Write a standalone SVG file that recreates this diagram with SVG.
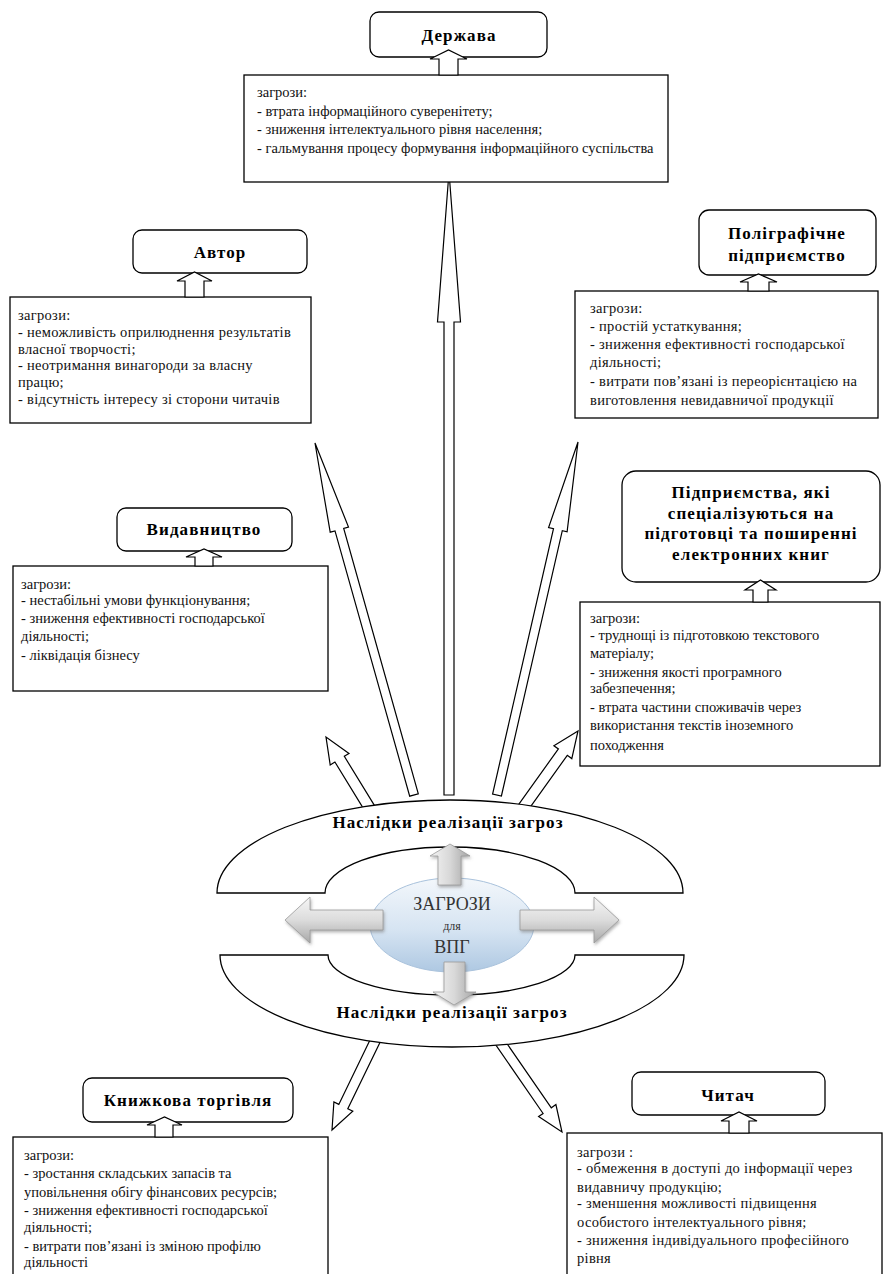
<svg xmlns="http://www.w3.org/2000/svg" width="885" height="1274" viewBox="0 0 885 1274">
<style>
.title{fill:#fff;stroke:#000;stroke-width:1.3}
.box{fill:#fff;stroke:#000;stroke-width:1.3}
.ba{fill:#fff;stroke:#000;stroke-width:1.2;stroke-linejoin:miter}
.la{fill:#fff;stroke:#000;stroke-width:1.2;stroke-linejoin:miter}
.ring{fill:#fff;stroke:#000;stroke-width:1.3}
.tt{font-family:"Liberation Serif","Times New Roman",serif;font-weight:bold;font-size:17px;fill:#000;text-anchor:middle;letter-spacing:1.1px}
.tx{font-family:"Liberation Serif","Times New Roman",serif;font-size:14.5px;fill:#111}
.wide{letter-spacing:0.3px}
.ga{stroke:#9a9a9a;stroke-width:0.8;filter:url(#sh)}
.ct{font-family:"Liberation Serif","Times New Roman",serif;fill:#333;text-anchor:middle}
</style>
<defs>
<linearGradient id="gh" x1="0" y1="0" x2="0" y2="1"><stop offset="0" stop-color="#f6f6f6"/><stop offset="0.5" stop-color="#dcdcdc"/><stop offset="1" stop-color="#a8a8a8"/></linearGradient>
<linearGradient id="gv" x1="0" y1="0" x2="1" y2="0"><stop offset="0" stop-color="#f4f4f4"/><stop offset="0.5" stop-color="#d8d8d8"/><stop offset="1" stop-color="#a4a4a4"/></linearGradient>
<linearGradient id="ge" x1="0" y1="0" x2="0" y2="1"><stop offset="0" stop-color="#f3f7fb"/><stop offset="0.55" stop-color="#d6e4f2"/><stop offset="1" stop-color="#aec8e2"/></linearGradient>
<filter id="sh" x="-20%" y="-20%" width="150%" height="160%"><feDropShadow dx="1" dy="2" stdDeviation="1.5" flood-color="#777" flood-opacity="0.55"/></filter>
</defs>

<g id="connectors">
<polygon class="la" points="444,795 444,322 437.5,322 449,172 460.5,322 454,322 454,795"/>
<polygon class="la" points="418.3,793.8 343.7,528.4 348.5,527.1 315,443 330.2,532.2 335,530.9 409.7,796.2"/>
<polygon class="la" points="501.4,796 562.3,530.7 567.1,531.8 578,442 548.6,527.6 553.5,528.7 492.6,794"/>
<polygon class="la" points="376.7,809.1 344.3,756.3 349,753.4 326,737 330.2,764.9 334.9,762 367.3,814.9"/>
<polygon class="la" points="524.5,815.2 567.3,755.3 571.8,758.6 578,731 553.9,745.7 558.4,748.9 515.5,808.8"/>
<polygon class="la" points="373.5,1032.8 338.8,1104.4 333.9,1102 332,1130 352.8,1111.2 347.8,1108.8 382.5,1037.2"/>
<polygon class="la" points="490.9,1037.8 543.1,1113.5 538.6,1116.6 562,1132 555.9,1104.6 551.3,1107.8 499.1,1032.2"/>
</g>

<g id="center">
<path class="ring" d="M217,893 A233,93 0 0 1 683,893 L575,893 A125,46 0 0 0 325,893 Z"/>
<path class="ring" d="M220,955 L328,955 A123,40 0 0 0 575,955 L684,955 A232,92 0 0 1 220,955 Z"/>
<ellipse cx="452" cy="925" rx="82" ry="47" fill="url(#ge)" stroke="#a9c2dc" stroke-width="1"/>
<polygon class="ga" fill="url(#gv)" points="438,885 438,856 430,856 450,844 470,856 461,856 461,885"/>
<polygon class="ga" fill="url(#gv)" points="444,962 444,992 433,992 454,1005 476,992 465,992 465,962"/>
<polygon class="ga" fill="url(#gh)" points="383,910 310,910 310,897 285,920 310,943 310,930 383,930"/>
<polygon class="ga" fill="url(#gh)" points="520,910 594,910 594,897 619,920 594,943 594,930 520,930"/>
<text class="ct" x="452" y="910" font-size="18">ЗАГРОЗИ</text>
<text class="ct" x="452" y="930" font-size="12">для</text>
<text class="ct" x="452" y="953" font-size="18">ВПГ</text>
<text class="tt" x="448" y="828">Наслідки реалізації загроз</text>
<text class="tt" x="452" y="1018">Наслідки реалізації загроз</text>
</g>

<g id="derzhava">
<rect class="title" x="370" y="12" width="177" height="45" rx="9"/>
<text class="tt" x="459" y="41">Держава</text>
<rect class="box" x="244" y="75" width="424" height="107"/>
<polygon class="ba" points="439,75 439,59 430,59 448.5,50 467,59 458,59 458,75"/>
<text class="tx" x="257" y="97">загрози:</text>
<text class="tx" x="257" y="115.5">- втрата інформаційного суверенітету;</text>
<text class="tx" x="257" y="134">- зниження інтелектуального рівня населення;</text>
<text class="tx" x="257" y="152.5">- гальмування процесу формування інформаційного суспільства</text>
</g>

<g id="avtor">
<rect class="title" x="133" y="230" width="174" height="43" rx="9"/>
<text class="tt" x="220" y="257.5">Автор</text>
<rect class="box" x="10" y="297" width="301" height="126"/>
<polygon class="ba" points="185,297 185,281 177,281 194.5,272 212,281 204,281 204,297"/>
<g class="wide">
<text class="tx" x="18" y="320">загрози:</text>
<text class="tx" x="18" y="337">- неможливість оприлюднення результатів</text>
<text class="tx" x="18" y="353.5">власної творчості;</text>
<text class="tx" x="18" y="370">- неотримання винагороди за власну</text>
<text class="tx" x="18" y="387">працю;</text>
<text class="tx" x="18" y="403.5">- відсутність інтересу зі сторони читачів</text>
</g>
</g>

<g id="poligraf">
<rect class="title" x="699" y="210" width="177" height="65" rx="10"/>
<text class="tt" x="787" y="239">Поліграфічне</text>
<text class="tt" x="787" y="261">підприємство</text>
<rect class="box" x="575" y="291" width="303" height="127"/>
<polygon class="ba" points="748,291 748,282 740,282 758.5,274 777,282 769,282 769,291"/>
<g class="wide">
<text class="tx" x="590" y="313">загрози:</text>
<text class="tx" x="590" y="331">- простій устаткування;</text>
<text class="tx" x="590" y="349">- зниження ефективності господарської</text>
<text class="tx" x="590" y="367">діяльності;</text>
<text class="tx" x="590" y="386">- витрати пов’язані із переорієнтацією на</text>
<text class="tx" x="590" y="405">виготовлення невидавничої продукції</text>
</g>
</g>

<g id="vydavnytstvo">
<rect class="title" x="117" y="508" width="175" height="43" rx="9"/>
<text class="tt" x="204" y="535">Видавництво</text>
<rect class="box" x="13" y="566" width="315" height="125"/>
<polygon class="ba" points="195,566 195,557 186,557 204,549 222,557 213,557 213,566"/>
<text class="tx" x="21" y="589">загрози:</text>
<text class="tx" x="21" y="605">- нестабільні умови функціонування;</text>
<text class="tx" x="21" y="623">- зниження ефективності господарської</text>
<text class="tx" x="21" y="641">діяльності;</text>
<text class="tx" x="21" y="660">- ліквідація бізнесу</text>
</g>

<g id="ebooks">
<rect class="title" x="622" y="471" width="258" height="111" rx="14"/>
<text class="tt" x="751" y="497.5">Підприємства, які</text>
<text class="tt" x="751" y="518.5">спеціалізуються на</text>
<text class="tt" x="751" y="539">підготовці та поширенні</text>
<text class="tt" x="751" y="559.5">електронних книг</text>
<rect class="box" x="580" y="602" width="300" height="164"/>
<polygon class="ba" points="753,602 753,590 745,590 760.5,580 776,590 768,590 768,602"/>
<text class="tx" x="590" y="622.5">загрози:</text>
<text class="tx" x="590" y="640">- труднощі із підготовкою текстового</text>
<text class="tx" x="590" y="658">матеріалу;</text>
<text class="tx" x="590" y="676.5">- зниження якості програмного</text>
<text class="tx" x="590" y="693">забезпечення;</text>
<text class="tx" x="590" y="711.5"> - втрата частини споживачів через</text>
<text class="tx" x="590" y="729.5">використання текстів іноземного</text>
<text class="tx" x="590" y="749.5">походження</text>
</g>

<g id="knyzhkova">
<rect class="title" x="83" y="1078" width="210" height="44" rx="9"/>
<text class="tt" x="188" y="1106">Книжкова торгівля</text>
<rect class="box" x="13" y="1137" width="315" height="150"/>
<polygon class="ba" points="155,1137 155,1125 147,1125 164.5,1117 182,1125 173,1125 173,1137"/>
<text class="tx" x="24" y="1159.5">загрози:</text>
<text class="tx" x="24" y="1177.5">- зростання складських запасів та</text>
<text class="tx" x="24" y="1196.5">уповільнення обігу фінансових ресурсів;</text>
<text class="tx" x="24" y="1214.5">- зниження ефективності господарської</text>
<text class="tx" x="24" y="1231.5">діяльності;</text>
<text class="tx" x="24" y="1250.5">- витрати пов’язані із зміною профілю</text>
<text class="tx" x="24" y="1266.5">діяльності</text>
</g>

<g id="chytach">
<rect class="title" x="632" y="1072" width="193" height="43" rx="9"/>
<text class="tt" x="728" y="1101">Читач</text>
<rect class="box" x="567" y="1133" width="315" height="150"/>
<polygon class="ba" points="729,1133 729,1121 721,1121 739,1112 757,1121 749,1121 749,1133"/>
<g class="wide">
<text class="tx" x="577" y="1156.5">загрози :</text>
<text class="tx" x="577" y="1172.5">- обмеження в доступі до інформації через</text>
<text class="tx" x="577" y="1191.5">видавничу продукцію;</text>
<text class="tx" x="577" y="1207.5">- зменшення можливості підвищення</text>
<text class="tx" x="577" y="1226.5">особистого інтелектуального рівня;</text>
<text class="tx" x="577" y="1244.5">- зниження індивідуального професійного</text>
<text class="tx" x="577" y="1262.5">рівня</text>
</g>
</g>
</svg>
